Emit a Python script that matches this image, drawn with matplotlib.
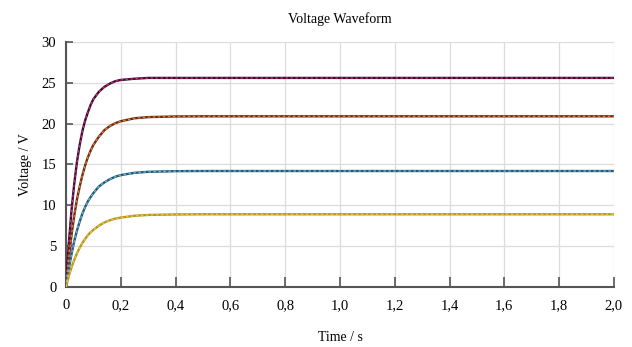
import matplotlib
matplotlib.use("Agg")
import matplotlib.pyplot as plt
from matplotlib.ticker import FuncFormatter

t = [0, 0.01, 0.02, 0.03, 0.04, 0.05, 0.06, 0.07, 0.08, 0.09, 0.10, 0.12, 0.14,
     0.16, 0.18, 0.20, 0.25, 0.30, 0.40, 0.50, 0.60, 0.80, 1.0, 1.2, 1.4, 1.6, 1.8, 2.0]

v_purple = [0, 5.2, 9.3, 12.6, 15.3, 17.4, 19.1, 20.4, 21.4, 22.3, 23.0, 23.9, 24.5,
            24.9, 25.2, 25.35, 25.5, 25.6, 25.6, 25.6, 25.6, 25.6, 25.6, 25.6, 25.6, 25.6, 25.6, 25.6]
v_orange = [0, 3.4, 6.3, 8.7, 10.7, 12.3, 13.7, 14.9, 15.9, 16.7, 17.4, 18.4, 19.2,
            19.7, 20.06, 20.3, 20.66, 20.8, 20.88, 20.9, 20.9, 20.9, 20.9, 20.9, 20.9, 20.9, 20.9, 20.9]
v_blue = [0, 2.2, 4.0, 5.6, 6.9, 8.0, 9.0, 9.8, 10.5, 11.0, 11.5, 12.3, 12.8,
          13.2, 13.5, 13.7, 13.98, 14.1, 14.18, 14.2, 14.2, 14.2, 14.2, 14.2, 14.2, 14.2, 14.2, 14.2]
v_yellow = [0, 1.3, 2.4, 3.3, 4.1, 4.8, 5.4, 5.9, 6.35, 6.7, 7.0, 7.5, 7.9,
            8.17, 8.37, 8.5, 8.72, 8.82, 8.88, 8.9, 8.9, 8.9, 8.9, 8.9, 8.9, 8.9, 8.9, 8.9]

x_ticks = [0, 0.2, 0.4, 0.6, 0.8, 1.0, 1.2, 1.4, 1.6, 1.8, 2.0]
y_ticks = [0, 5, 10, 15, 20, 25, 30]

series = [
    (v_purple, "#3c0a32", "#c8327e"),
    (v_orange, "#6a2a12", "#e08040"),
    (v_blue, "#1f5a78", "#7ab8d0"),
    (v_yellow, "#b89420", "#e8c840"),
]

plt.rcParams['font.family'] = ['Liberation Serif', 'DejaVu Serif']

fig = plt.figure(figsize=(6.32, 3.47), dpi=100)
ax = fig.add_axes([0.1044, 0.173, 0.867, 0.706])

for vals, dark, light in series:
    ax.plot(t, vals, color=dark, lw=1.7, solid_capstyle='butt', zorder=3)
    ax.plot(t, vals, color=light, lw=0.9, ls=(0, (2, 2)), zorder=4)

ax.set_xlim(0, 2.0)
ax.set_ylim(0, 30)
ax.set_xticks(x_ticks)
ax.set_yticks(y_ticks)
ax.xaxis.set_major_formatter(FuncFormatter(lambda x, p: "0" if x == 0 else f"{x:.1f}".replace(".", ",")))
ax.grid(True, color="#dcdcdc", lw=0.9)
ax.set_axisbelow(True)
for s in ["top", "right"]:
    ax.spines[s].set_visible(False)
for s in ["left", "bottom"]:
    ax.spines[s].set_color("#555555")
    ax.spines[s].set_linewidth(1.5)
ax.tick_params(axis='x', direction='in', length=7, width=1.2, color="#555555",
               labelsize=10.5, pad=9)
ax.tick_params(axis='y', direction='in', length=5, width=1.2, color="#555555",
               labelsize=10.5, pad=7)

ax.set_title("Voltage Waveform", fontsize=10, pad=14)
ax.set_xlabel("Time / s", fontsize=10, labelpad=13)
ax.set_ylabel("Voltage / V", fontsize=10, labelpad=7)

fig.savefig("out.png", dpi=100)
